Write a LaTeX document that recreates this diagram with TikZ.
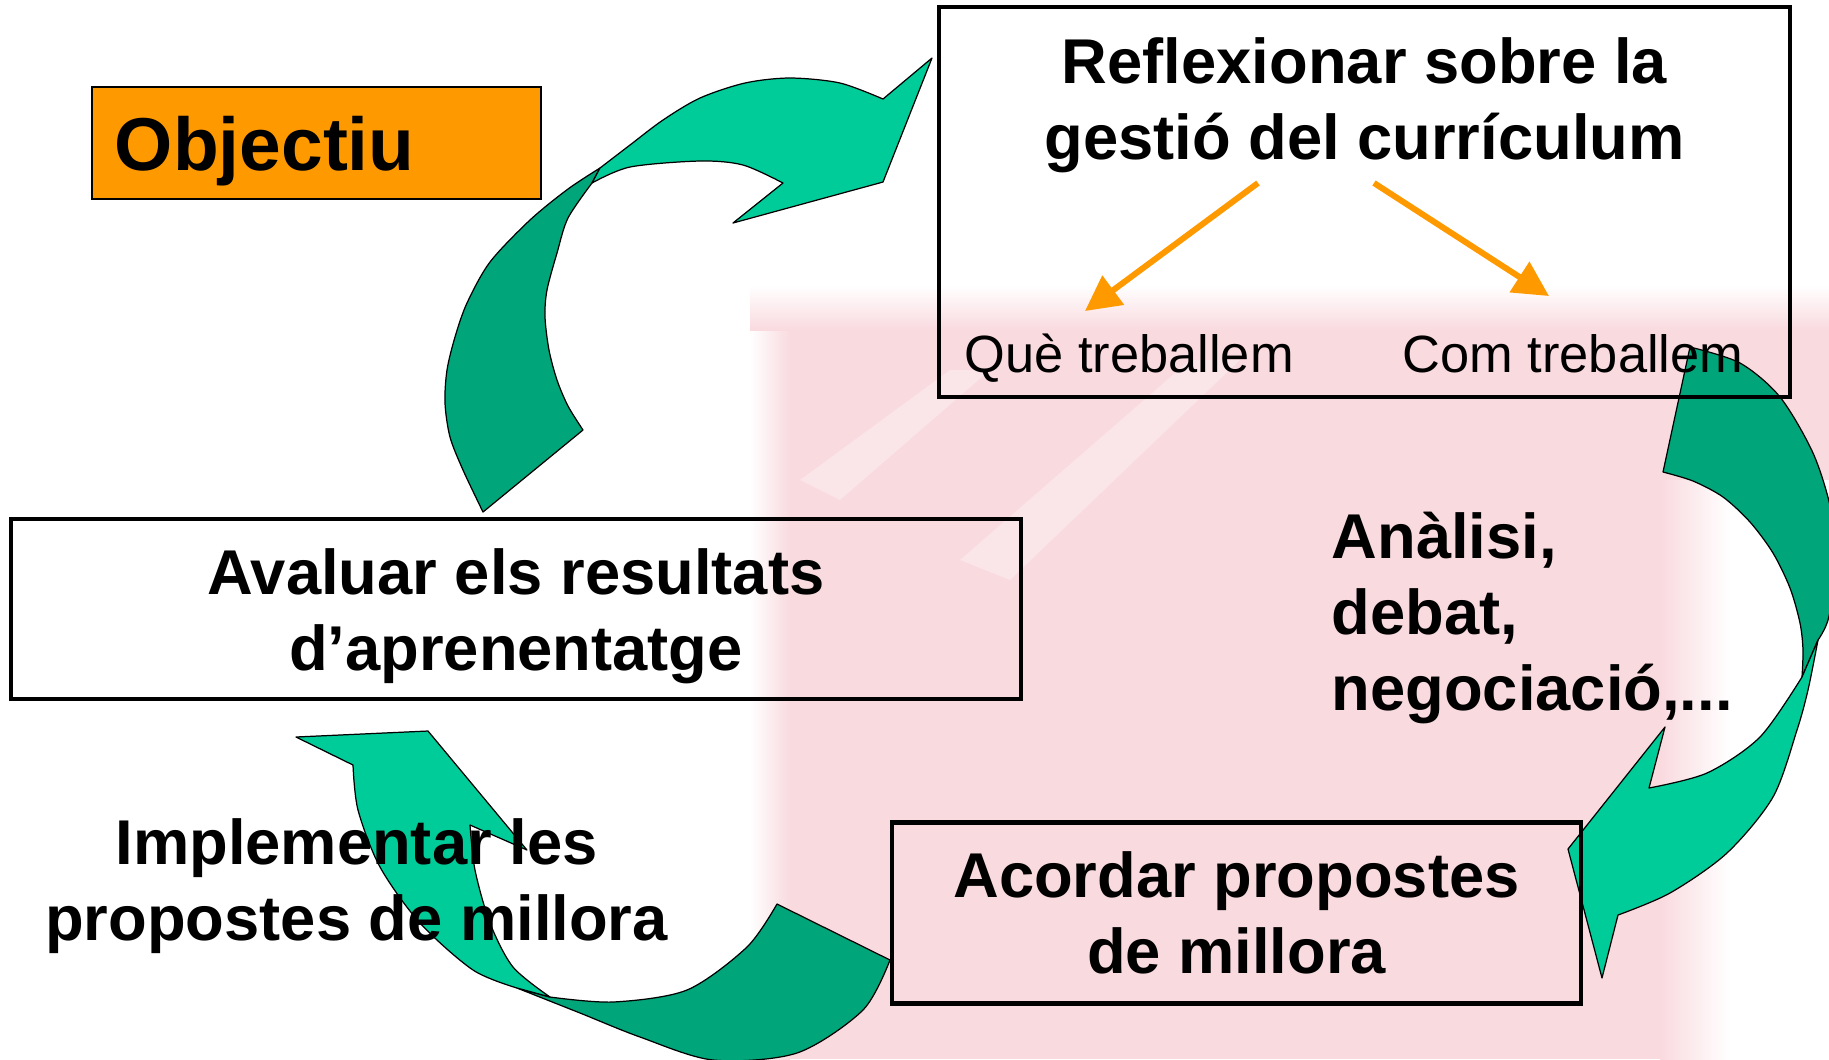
\documentclass[tikz,border=0pt]{standalone}
\usepackage{fontspec}
\setmainfont{Liberation Sans}
\usetikzlibrary{arrows.meta,positioning}
\definecolor{taronja}{HTML}{FF9900}
\definecolor{verdclar}{HTML}{00CC99}
\definecolor{verdfosc}{HTML}{00A57A}
\definecolor{rosa}{HTML}{F9DADF}
\tikzset{
  caixa/.style={
    draw,
    line width=1.2pt,
    shape=rectangle,
    inner sep=0pt
  },
  titol/.style={
    align=center,
    inner sep=0pt,
    font=\fontsize{18}{21.6}\selectfont\bfseries
  },
  etiqueta/.style={
    inner sep=0pt,
    anchor=base west,
    font=\fontsize{14.9}{18}\selectfont
  },
  fletxa/.style={
    draw=taronja,
    line width=1.7pt,
    -{Triangle[length=10pt,width=10pt]}
  },
}
\tikzset{
  clar/.style={
    fill=verdclar,
    draw=black,
    line width=0.35pt,
    line join=round
  },
  fosc/.style={
    fill=verdfosc,
    draw=black,
    line width=0.35pt,
    line join=round
  },
}

\begin{document}
\begin{tikzpicture}[x=0.01cm,y=-0.01cm]
  \useasboundingbox (0,0) rectangle (1829,1059);
  \fill[rosa] (790,330) rectangle (1829,1059);
  \shade[left color=white,right color=rosa] (750,330) rectangle (790,1059);
  \shade[top color=white,bottom color=rosa] (750,285) rectangle (1829,330);
  \shade[left color=rosa,right color=white] (1660,480) rectangle (1730,1059);
  \fill[white] (1730,480) rectangle (1829,1059);
  \fill[white,opacity=0.3] (800,480) -- (950,370) -- (990,370) -- (840,500) -- cycle;
  \fill[white,opacity=0.3] (960,560) -- (1190,360) -- (1240,360) -- (1010,580) -- cycle;

  % arrow from Avaluar to Reflexionar
  \filldraw[fosc] plot[smooth] coordinates {(483,512) (463,470) (450,437) (445,403) (447,370) (455,337) (467,303) (490,262) (530,220) (568,189) (600,168)}
    -- plot[smooth] coordinates {(592,183) (568,218) (557,253) (547,290) (545,317) (549,350) (557,380) (568,406) (583,430)} -- cycle;
  \filldraw[clar] plot[smooth] coordinates {(592,183) (630,167) (700,161) (743,165) (783,183)}
    -- (733,223) -- (883,182) -- (932,58) -- (883,99)
    -- plot[smooth] coordinates {(883,99) (840,83) (790,78) (745,83) (700,98) (663,120) (630,145) (600,168)} -- cycle;

  % arrow from Reflexionar to Acordar
  \filldraw[fosc] plot[smooth] coordinates {(1690,347) (1740,363) (1780,397) (1813,453) (1831,510) (1837,570) (1828,620) (1818,640)}
    -- plot[smooth] coordinates {(1802,677) (1803,650) (1800,623) (1790,588) (1773,553) (1750,522) (1723,497) (1693,481) (1663,472)} -- cycle;
  \filldraw[clar] (1802,677) -- plot[smooth] coordinates {(1818,640) (1808,690) (1797,730) (1773,797) (1727,853) (1670,893) (1618,915)}
    -- (1602,978) -- (1568,849) -- (1665,727) -- (1649,788)
    -- plot[smooth] coordinates {(1649,788) (1707,773) (1760,737) (1802,677)} -- cycle;

  % arrow from Acordar to Implementar
  \filldraw[fosc] (777,904) -- plot[smooth] coordinates {(890,960) (863,1010) (797,1053) (713,1060) (640,1037) (580,1013) (517,988)}
    -- plot[smooth] coordinates {(550,997) (613,1002) (687,990) (747,947) (777,904)} -- cycle;
  \filldraw[clar] plot[smooth] coordinates {(550,997) (513,967) (490,923) (475,870) (470,825)}
    -- (527,850) -- (428,731) -- (296,737) -- (353,765)
    -- plot[smooth] coordinates {(353,765) (358,810) (380,867) (420,923) (473,970) (517,988)} -- cycle;

  \node[draw, fill=taronja, line width=0.5pt, minimum width=4.49cm, minimum height=1.12cm,
    text width=4.03cm, inner xsep=0.23cm, inner ysep=0pt, align=left, text depth=0pt,
    font=\fontsize{21.3}{25}\selectfont\bfseries] (objectiu) at (316.5,143) {Objectiu};

  \node[caixa, minimum width=8.51cm, minimum height=3.90cm] (reflexionar) at (1364.5,202) {};
  \node[titol] (reflexiotxt) at ([yshift=0.97cm]reflexionar.center) {Reflexionar sobre la\\gestió del currículum};
  \node[etiqueta] (que) at (964,372) {Què treballem};
  \node[etiqueta] (com) at (1402,372) {Com treballem};
  \coordinate (queinici) at (1258,183);
  \coordinate (quefi) at (1085,311);
  \coordinate (cominici) at (1374,183);
  \coordinate (comfi) at (1549,296);
  \draw[fletxa] (queinici) -- (quefi);
  \draw[fletxa] (cominici) -- (comfi);

  \node[caixa, minimum width=10.10cm, minimum height=1.80cm] (avaluar) at (516,609) {};
  \node[titol] (avaluartxt) at ([yshift=-0.075cm]avaluar.center) {Avaluar els resultats\\d’aprenentatge};

  \node[caixa, minimum width=6.89cm, minimum height=1.81cm] (acordar) at (1236.5,913) {};
  \node[titol] (acordartxt) at (acordar.center) {Acordar propostes\\de millora};

  \node[titol, align=left, anchor=north west] (analisi) at (1331,511) {Anàlisi,\\debat,\\negociació,...};
  \node[titol] (implementar) at (356.5,885.7) {Implementar les\\propostes de millora};
\end{tikzpicture}
\end{document}
